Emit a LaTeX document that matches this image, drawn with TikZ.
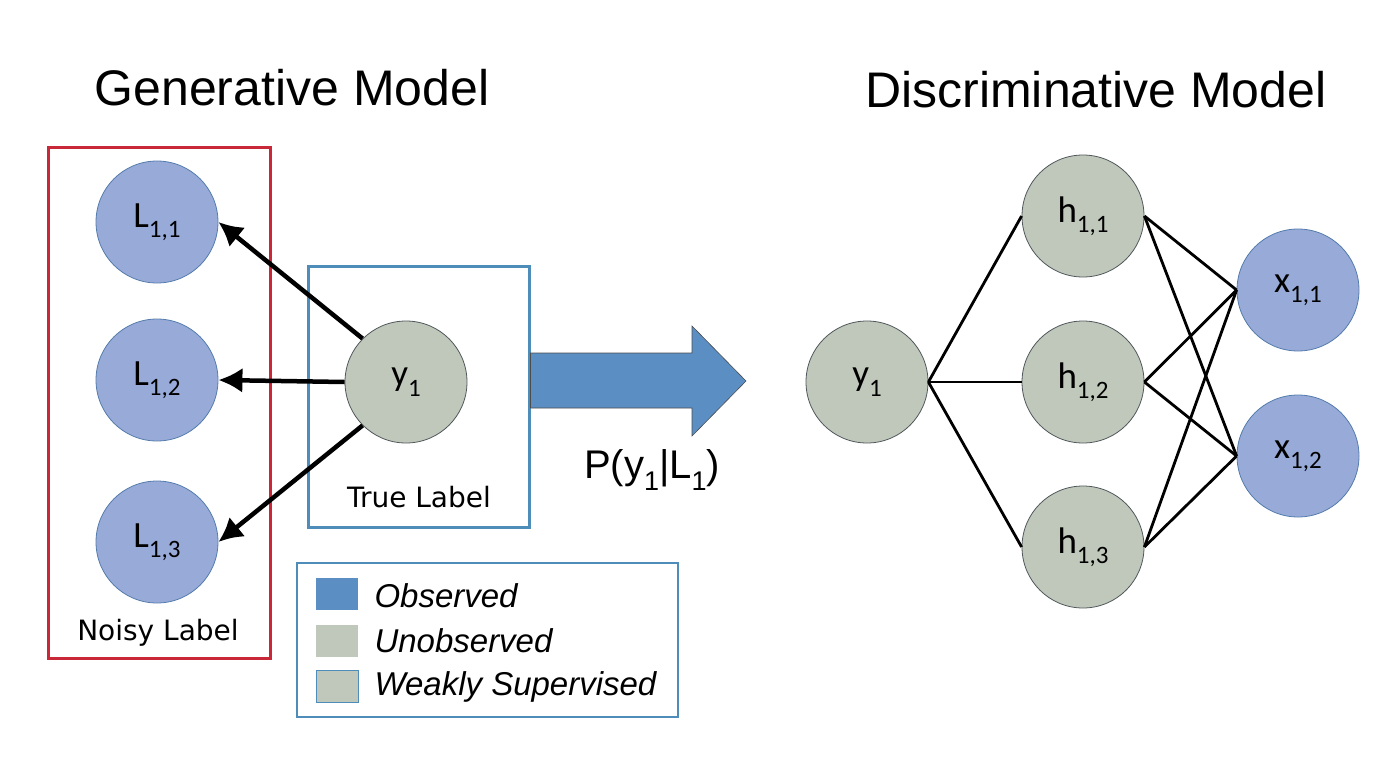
\documentclass[tikz,border=0pt]{standalone}
\usepackage{fontspec}
\setmainfont{Liberation Sans}
\newfontfamily\calfont{Carlito}
\newfontfamily\verfont{DejaVu Sans}
\usepackage{xcolor}
\usepackage{tikz}
\usetikzlibrary {positioning}
\usetikzlibrary{arrows.meta}
\definecolor{obsblue}{RGB}{151,170,216}
\definecolor{obsline}{RGB}{84,124,172}
\definecolor{unobsgray}{RGB}{192,199,187}
\definecolor{unobsline}{RGB}{80,88,92}
\definecolor{steel}{RGB}{78,141,186}
\definecolor{boxred}{RGB}{200,40,56}
\definecolor{arrowblue}{RGB}{91,143,195}
\tikzset{edge/.style = {->,> = {Latex[length=24pt,width=25pt]}, line width=4.5pt}}
\newcommand{\nsub}[1]{\raisebox{-0.28em}{\fontsize{25}{25}\selectfont #1}}

\begin{document}
\begin{tikzpicture}[x=1pt,y=-1pt,
    obs node/.style={circle,draw=obsline,line width=0.8pt,fill=obsblue,minimum size=122pt,inner sep=0pt,font=\calfont\fontsize{37}{37}\selectfont},
    hid node/.style={circle,draw=unobsline,line width=0.8pt,fill=unobsgray,minimum size=122pt,inner sep=0pt,font=\calfont\fontsize{37}{37}\selectfont},
    title/.style={font=\fontsize{50}{52}\selectfont},
    caption/.style={font=\verfont\fontsize{28}{28}\selectfont},
    legtext/.style={anchor=west,font=\itshape\fontsize{33}{35}\selectfont},
    swatch/.style={minimum width=42pt,minimum height=32pt,inner sep=0pt},
    link/.style={line width=2.8pt}]
\useasboundingbox (0,0) rectangle (1400,766);

% titles
\node[title] (gen) at (292,88) {Generative Model};
\node[title] (dis) at (1096,90) {Discriminative Model};

% generative side
\node[draw=boxred,line width=3pt,minimum width=222pt,minimum height=511pt] (noisybox) at (159,402.5) {};
\node[draw=steel,line width=3pt,minimum width=221pt,minimum height=261pt] (truebox) at (418.5,396.5) {};

\node[obs node] (L11) at (157,222) {L\nsub{1,1}};
\node[obs node] (L12) [below of=L11,node distance=158pt] {L\nsub{1,2}};
\node[obs node] (L13) [below of=L12,node distance=162pt] {L\nsub{1,3}};
\node[caption] (noisy) at (158,633) {Noisy Label};

\node[hid node] (y1) at (406,382) {y\nsub{1}};
\node[caption] (truel) at (419,497) {True Label};

\path[edge] (y1.north west) edge (L11.east);
\path[edge] (y1.west) edge (L12.east);
\path[edge] (y1.south west) edge (L13.east);

% big arrow
\filldraw[fill=arrowblue,draw=black!70,line width=0.6pt]
  (truebox.east |- 0,353) -- (692,353) -- (692,326) -- (746,381)
  -- (692,436) -- (692,408) -- (truebox.east |- 0,408) -- cycle;
\node[font=\fontsize{40}{40}\selectfont] (post) at (652,470) {P(y\raisebox{-0.3em}{\fontsize{27}{27}\selectfont 1}|L\raisebox{-0.3em}{\fontsize{27}{27}\selectfont 1})};

% legend
\node[draw=steel,line width=2.5pt,minimum width=381pt,minimum height=154pt] (legend) at (487.5,640) {};
\node[swatch,fill=arrowblue] (sw1) at (337,594) {};
\node[swatch,fill=unobsgray] (sw2) at (337,641) {};
\node[swatch,fill=unobsgray,draw=steel,line width=1pt] (sw3) at (337,686.5) {};
\node[legtext] (lt1) at (371,596) {Observed};
\node[legtext] (lt2) at (371,641) {Unobserved};
\node[legtext] (lt3) at (371,687) {Weakly Supervised};

% discriminative side
\node[hid node] (y1d) at (867,382) {y\nsub{1}};
\node[hid node] (h11) at (1083,216) {h\nsub{1,1}};
\node[hid node] (h12) [below of=h11,node distance=166pt] {h\nsub{1,2}};
\node[hid node] (h13) [below of=h12,node distance=165pt] {h\nsub{1,3}};
\node[obs node] (x11) at (1298,290) {x\nsub{1,1}};
\node[obs node] (x12) [below of=x11,node distance=166pt] {x\nsub{1,2}};

\path[link] (y1d.east) edge (h11.west);
\path[link] (y1d.east) edge (h12.west);
\path[link] (y1d.east) edge (h13.west);
\path[link] (h11.east) edge (x11.west);
\path[link] (h11.east) edge (x12.west);
\path[link] (h12.east) edge (x11.west);
\path[link] (h12.east) edge (x12.west);
\path[link] (h13.east) edge (x11.west);
\path[link] (h13.east) edge (x12.west);
\end{tikzpicture}
\end{document}
